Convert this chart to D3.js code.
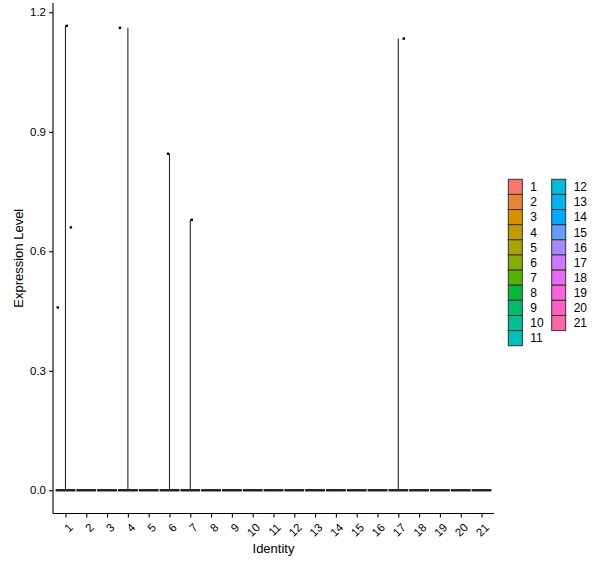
<!DOCTYPE html>
<html>
<head>
<meta charset="utf-8">
<script src="https://cdn.jsdelivr.net/npm/d3@7"></script>
<style>
  html, body { margin: 0; padding: 0; background: #fff; }
  text { font-family: "Liberation Sans", Arial, sans-serif; }
</style>
</head>
<body>
<svg id="chart" width="600" height="568"></svg>
<script>
// ---- data ----
const clusters = ["1","2","3","4","5","6","7","8","9","10","11","12","13","14","15","16","17","18","19","20","21"];
// maximum expression per cluster (violin extent; min is 0 for all)
const violinMax = [1.166, 0, 0, 1.161, 0, 0.845, 0.679, 0, 0, 0, 0, 0, 0, 0, 0, 0, 1.134, 0, 0, 0, 0];
// non-zero cells (jittered points)
const pointCluster = ["1", "1", "1", "4", "6", "7", "17"];
const pointValue   = [1.166, 0.660, 0.459, 1.161, 0.845, 0.679, 1.134];
const pointJitter  = [0.06, 0.26, -0.37, -0.38, -0.07, 0.07, 0.26];
const yTicks = [0.0, 0.3, 0.6, 0.9, 1.2];
const palette = ["#F8766D","#EB8335","#DA8F00","#C49A00","#A9A400","#86AC00","#53B400","#00BA38","#00BE6D","#00C094","#00C0B8","#00BCD8","#00B4F0","#00A9FF","#619CFF","#A58AFF","#CF78FF","#EA6AF1","#FA62DB","#FF61C1","#FF67A4"];

// ---- layout ----
const svg = d3.select("#chart");
const panel = { left: 53, right: 494, top: 3, bottom: 513.5 };

const x = d3.scalePoint()
  .domain(clusters)
  .range([panel.left, panel.right])
  .padding(0.6);
const step = x.step();

const y = d3.scaleLinear()
  .domain([-0.0583, 1.2233])
  .range([panel.bottom, panel.top]);

const color = d3.scaleOrdinal().domain(clusters).range(palette);

const g = svg.append("g");

// violins (degenerate: flat at 0, thin spike to max)
clusters.forEach((c, i) => {
  const cx = x(c);
  const half = step * 0.45;
  g.append("rect")
    .attr("x", cx - half)
    .attr("y", y(0) - 0.6)
    .attr("width", half * 2)
    .attr("height", 1.2)
    .attr("fill", color(c))
    .attr("stroke", "#111")
    .attr("stroke-width", 1.1);
  if (violinMax[i] > 0) {
    g.append("line")
      .attr("x1", cx).attr("x2", cx)
      .attr("y1", y(0)).attr("y2", y(violinMax[i]))
      .attr("stroke", "#262626")
      .attr("stroke-width", 1.1);
  }
});

// points
g.selectAll("rect.pt")
  .data(pointValue)
  .join("rect")
  .attr("class", "pt")
  .attr("x", (d, i) => x(pointCluster[i]) + pointJitter[i] * step - 1.2)
  .attr("y", d => y(d) - 1.2)
  .attr("width", 2.4)
  .attr("height", 2.4)
  .attr("fill", "#000");

// axes
const yAxis = d3.axisLeft(y).tickValues(yTicks).tickFormat(d3.format(".1f")).tickSize(4).tickPadding(3);
const yg = svg.append("g").attr("transform", `translate(${panel.left},0)`).call(yAxis);
yg.select(".domain").attr("d", `M0,${panel.top}V${panel.bottom}`).attr("stroke", "#000").attr("stroke-width", 1.1);
yg.selectAll(".tick line").attr("stroke", "#000").attr("stroke-width", 1.1);
yg.selectAll(".tick text").attr("font-size", 11.5).attr("fill", "#000");

const xAxis = d3.axisBottom(x).tickSize(4).tickPadding(0);
const xg = svg.append("g").attr("transform", `translate(0,${panel.bottom})`).call(xAxis);
xg.select(".domain").attr("d", `M${panel.left},0H${panel.right}`).attr("stroke", "#000").attr("stroke-width", 1.1);
xg.selectAll(".tick line").attr("stroke", "#000").attr("stroke-width", 1.1);
xg.selectAll(".tick text")
  .attr("font-size", 11.5)
  .attr("fill", "#000")
  .attr("text-anchor", "end")
  .attr("dy", null)
  .attr("y", 0)
  .attr("transform", "translate(2,9) rotate(-45)")
  .attr("dominant-baseline", "hanging");

// axis titles
svg.append("text")
  .attr("x", (panel.left + panel.right) / 2)
  .attr("y", 553)
  .attr("text-anchor", "middle")
  .attr("font-size", 13)
  .text("Identity");
svg.append("text")
  .attr("transform", `translate(23,${(panel.top + panel.bottom) / 2}) rotate(-90)`)
  .attr("text-anchor", "middle")
  .attr("font-size", 13)
  .text("Expression Level");

// legend
const legend = svg.append("g");
const keyW = 14, keyH = 15.13, rows = 11;
clusters.forEach((c, i) => {
  const col = Math.floor(i / rows), row = i % rows;
  const lx = 508.3 + col * 43.4;
  const ly = 179.3 + row * keyH;
  legend.append("rect")
    .attr("x", lx).attr("y", ly)
    .attr("width", keyW).attr("height", keyH)
    .attr("fill", color(c))
    .attr("stroke", "#333")
    .attr("stroke-width", 1);
  legend.append("text")
    .attr("x", lx + 22)
    .attr("y", ly + keyH / 2)
    .attr("dy", "0.36em")
    .attr("font-size", 12)
    .text(c);
});
</script>
</body>
</html>
